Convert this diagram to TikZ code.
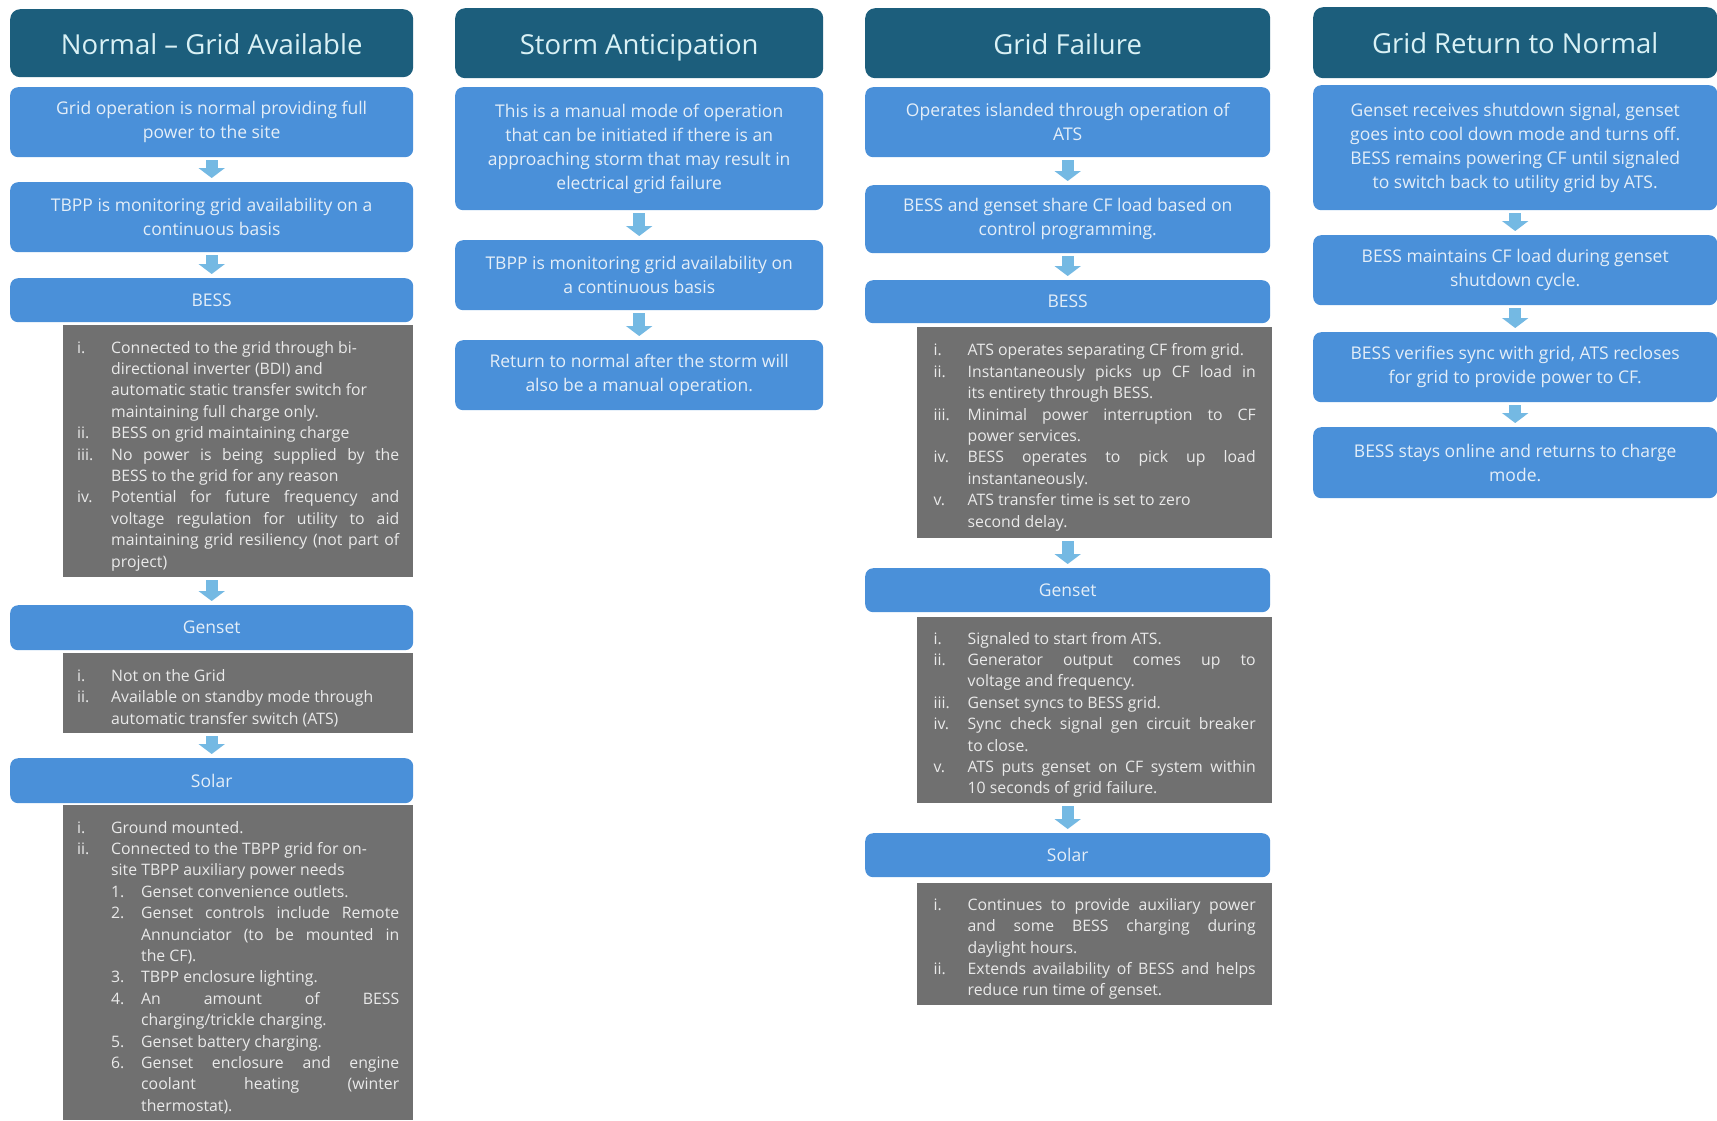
\documentclass[tikz,border=0pt]{standalone}
\usepackage{fontspec}
\setmainfont{Open Sans}
\usetikzlibrary{arrows.meta}

\definecolor{headteal}{HTML}{1C5E7C}
\definecolor{headtext}{HTML}{D9F1F5}
\definecolor{stepblue}{HTML}{4A90D9}
\definecolor{steptext}{HTML}{E4EEF8}
\definecolor{listgray}{HTML}{707070}
\definecolor{listtext}{HTML}{EAEAEA}
\definecolor{arrowblue}{HTML}{74B9E3}

\newcommand{\headfont}{\fontsize{27.5}{32}\selectfont}
\newcommand{\stepfont}{\fontsize{17.5}{24}\selectfont}
\newcommand{\listfont}{\fontsize{15.8}{21.4}\selectfont\hyphenpenalty=10000\tolerance=10000\hbadness=10000}

% hanging items for the grey lists (justified, hanging under the label)
\newcommand{\itemsetup}{\rightskip=0pt\leftskip=0pt\spaceskip=0pt\xspaceskip=0pt\parfillskip=0pt plus 1fil\relax}
\newcommand{\romitem}[2]{\par\noindent\itemsetup\hangindent=34pt\hangafter=1\makebox[34pt][l]{#1}#2}
\newcommand{\numitem}[2]{\par\noindent\itemsetup\hangindent=64pt\hangafter=1\hspace*{34pt}\makebox[30pt][l]{#1}#2}

\begin{document}
\begin{tikzpicture}[x=1pt, y=-1pt,
    headbox/.style={anchor=north west, fill=headteal, text=headtext, rounded corners=10pt, inner sep=0pt, text height=26pt, text depth=4pt, font=\headfont},
    stepbox/.style={anchor=north west, fill=stepblue, text=steptext, rounded corners=8pt, inner sep=0pt, align=center, font=\stepfont},
    listbox/.style={anchor=north west, fill=listgray, text=listtext, inner sep=0pt, text width=322pt, font=\listfont},
    flowarrow/.style={draw=arrowblue, line width=12pt, -{Triangle[width=26pt,length=10pt]}, shorten <=3pt, shorten >=4pt}]

    % Page
    \path[fill=white, use as bounding box] (0,0) rectangle (1717,1120);

    % Column 1: normal operation
    \node[headbox, minimum width=403, minimum height=68] (h1) at (10,9) {Normal -- Grid Available};
    \node[stepbox, minimum width=403, minimum height=70] (n1) at (10,87) {Grid operation is normal providing full\\power to the site};
    \node[stepbox, minimum width=403, minimum height=70] (n2) at (10,182) {TBPP is monitoring grid availability on a\\continuous basis};
    \node[stepbox, minimum width=403, minimum height=44] (bess1) at (10,278) {BESS};
    \node[listbox, minimum width=350, minimum height=252] (list1a) at (63,325) {%
      \romitem{i.}{Connected to the grid through bi-\newline directional inverter (BDI) and\newline automatic static transfer switch for\newline maintaining full charge only.}
      \romitem{ii.}{BESS on grid maintaining charge}
      \romitem{iii.}{No power is being supplied by the\linebreak BESS to the grid for any reason}
      \romitem{iv.}{Potential for future frequency and\linebreak voltage regulation for utility to aid\linebreak maintaining grid resiliency (not part of\linebreak project)}\par};
    \node[stepbox, minimum width=403, minimum height=45] (gen1) at (10,605) {Genset};
    \node[listbox, minimum width=350, minimum height=80] (list1b) at (63,653) {%
      \romitem{i.}{Not on the Grid}
      \romitem{ii.}{Available on standby mode through\newline automatic transfer switch (ATS)}\par};
    \node[stepbox, minimum width=403, minimum height=45] (solar1) at (10,758) {Solar};
    \node[listbox, minimum width=350, minimum height=315] (list1c) at (63,805) {%
      \romitem{i.}{Ground mounted.}
      \romitem{ii.}{Connected to the TBPP grid for on-\newline site TBPP auxiliary power needs}
      \numitem{1.}{Genset convenience outlets.}
      \numitem{2.}{Genset controls include Remote\linebreak Annunciator (to be mounted in\linebreak the CF).}
      \numitem{3.}{TBPP enclosure lighting.}
      \numitem{4.}{An amount of BESS\linebreak charging/trickle charging.}
      \numitem{5.}{Genset battery charging.}
      \numitem{6.}{Genset enclosure and engine\linebreak coolant heating (winter\linebreak thermostat).}\par};

    % Column 2: storm anticipation
    \node[headbox, minimum width=368, minimum height=70] (h2) at (455,8) {Storm Anticipation};
    \node[stepbox, minimum width=368, minimum height=123] (s1) at (455,87) {This is a manual mode of operation\\that can be initiated if there is an\\approaching storm that may result in\\electrical grid failure};
    \node[stepbox, minimum width=368, minimum height=70] (s2) at (455,240) {TBPP is monitoring grid availability on\\a continuous basis};
    \node[stepbox, minimum width=368, minimum height=70] (s3) at (455,340) {Return to normal after the storm will\\also be a manual operation.};

    % Column 3: grid failure
    \node[headbox, minimum width=405, minimum height=70] (h3) at (865,8) {Grid Failure};
    \node[stepbox, minimum width=405, minimum height=70] (f1) at (865,87) {Operates islanded through operation of\\ATS};
    \node[stepbox, minimum width=405, minimum height=68] (f2) at (865,185) {BESS and genset share CF load based on\\control programming.};
    \node[stepbox, minimum width=405, minimum height=43] (bess3) at (865,280) {BESS};
    \node[listbox, minimum width=355, minimum height=211] (list3a) at (917,327) {%
      \romitem{i.}{ATS operates separating CF from grid.}
      \romitem{ii.}{Instantaneously picks up CF load in\linebreak its entirety through BESS.}
      \romitem{iii.}{Minimal power interruption to CF\linebreak power services.}
      \romitem{iv.}{BESS operates to pick up load\linebreak instantaneously.}
      \romitem{v.}{ATS transfer time is set to zero\newline second delay.}\par};
    \node[stepbox, minimum width=405, minimum height=44] (gen3) at (865,568) {Genset};
    \node[listbox, minimum width=355, minimum height=186] (list3b) at (917,617) {%
      \romitem{i.}{Signaled to start from ATS.}
      \romitem{ii.}{Generator output comes up to\linebreak voltage and frequency.}
      \romitem{iii.}{Genset syncs to BESS grid.}
      \romitem{iv.}{Sync check signal gen circuit breaker\linebreak to close.}
      \romitem{v.}{ATS puts genset on CF system within\linebreak 10 seconds of grid failure.}\par};
    \node[stepbox, minimum width=405, minimum height=44] (solar3) at (865,833) {Solar};
    \node[listbox, minimum width=355, minimum height=122] (list3c) at (917,883) {%
      \romitem{i.}{Continues to provide auxiliary power\linebreak and some BESS charging during\linebreak daylight hours.}
      \romitem{ii.}{Extends availability of BESS and helps\linebreak reduce run time of genset.}\par};

    % Column 4: grid return
    \node[headbox, minimum width=404, minimum height=71] (h4) at (1313,7) {Grid Return to Normal};
    \node[stepbox, minimum width=404, minimum height=125] (r1) at (1313,85) {Genset receives shutdown signal, genset\\goes into cool down mode and turns off.\\BESS remains powering CF until signaled\\to switch back to utility grid by ATS.};
    \node[stepbox, minimum width=404, minimum height=70] (r2) at (1313,235) {BESS maintains CF load during genset\\shutdown cycle.};
    \node[stepbox, minimum width=404, minimum height=70] (r3) at (1313,332) {BESS verifies sync with grid, ATS recloses\\for grid to provide power to CF.};
    \node[stepbox, minimum width=404, minimum height=71] (r4) at (1313,427) {BESS stays online and returns to charge\\mode.};

    % Draw flow arrows
    \draw[flowarrow] (n1.south) -- (n2.north);
    \draw[flowarrow] (n2.south) -- (bess1.north);
    \draw[flowarrow] (list1a.south -| gen1.north) -- (gen1.north);
    \draw[flowarrow] (list1b.south -| solar1.north) -- (solar1.north);
    \draw[flowarrow] (s1.south) -- (s2.north);
    \draw[flowarrow] (s2.south) -- (s3.north);
    \draw[flowarrow] (f1.south) -- (f2.north);
    \draw[flowarrow] (f2.south) -- (bess3.north);
    \draw[flowarrow] (list3a.south -| gen3.north) -- (gen3.north);
    \draw[flowarrow] (list3b.south -| solar3.north) -- (solar3.north);
    \draw[flowarrow] (r1.south) -- (r2.north);
    \draw[flowarrow] (r2.south) -- (r3.north);
    \draw[flowarrow] (r3.south) -- (r4.north);
\end{tikzpicture}
\end{document}
